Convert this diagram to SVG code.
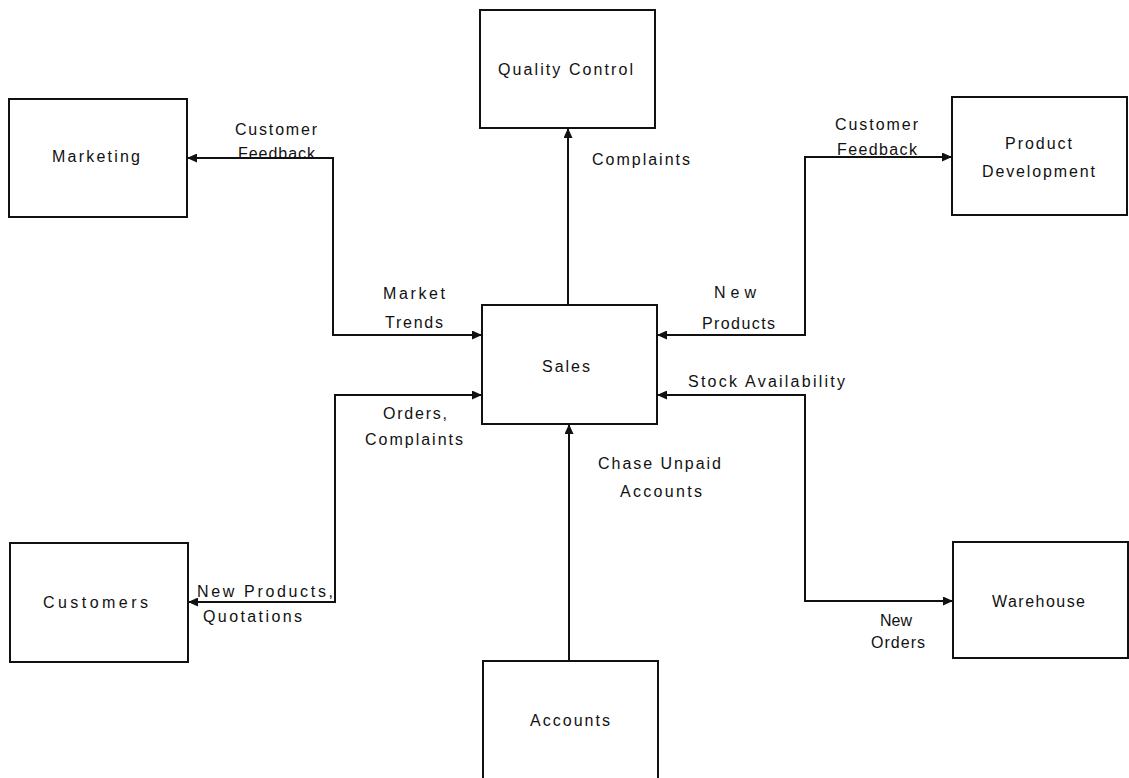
<svg xmlns="http://www.w3.org/2000/svg" width="1129" height="778" viewBox="0 0 1129 778">
  <style>
    .box { fill: #ffffff; stroke: #111111; stroke-width: 2; }
    .t { font-family: "Liberation Sans", Arial, sans-serif; font-size: 16px; fill: #111111; }
    .wire { fill: none; stroke: #111111; stroke-width: 2; }
    .one { marker-end: url(#head); }
    .two { marker-start: url(#head); marker-end: url(#head); }
  </style>
  <defs>
    <marker id="head" markerUnits="userSpaceOnUse" markerWidth="11" markerHeight="9" refX="10" refY="4.5" orient="auto-start-reverse">
      <path d="M0,0 L10,4.5 L0,9 z" fill="#111111"/>
    </marker>
  </defs>
  <rect width="1129" height="778" fill="#ffffff"/>

  <!-- information flows between departments -->
  <g id="connectors">
    <path class="wire two" d="M187,158 H333 V335 H482"/>
    <path class="wire two" d="M188,602 H335 V395 H482"/>
    <path class="wire one" d="M568,305 V128"/>
    <path class="wire one" d="M569,661 V424"/>
    <path class="wire two" d="M657,335 H805 V157 H952"/>
    <path class="wire two" d="M657,395 H805 V601 H953"/>

    <text class="t" x="235" y="135" textLength="82">Customer</text>
    <text class="t" x="238" y="159" textLength="77">Feedback</text>
    <text class="t" x="592" y="165" textLength="98">Complaints</text>
    <text class="t" x="835" y="130" textLength="83">Customer</text>
    <text class="t" x="837" y="155" textLength="80">Feedback</text>
    <text class="t" x="383" y="299" textLength="62">Market</text>
    <text class="t" x="385" y="328" textLength="58">Trends</text>
    <text class="t" x="714" y="298" textLength="42">New</text>
    <text class="t" x="702" y="329" textLength="73">Products</text>
    <text class="t" x="688" y="387" textLength="157">Stock Availability</text>
    <text class="t" x="383" y="419" textLength="64">Orders,</text>
    <text class="t" x="365" y="445" textLength="98">Complaints</text>
    <text class="t" x="598" y="469" textLength="123">Chase Unpaid</text>
    <text class="t" x="620" y="497" textLength="82">Accounts</text>
    <text class="t" x="197" y="597" textLength="136">New Products,</text>
    <text class="t" x="203" y="622" textLength="99">Quotations</text>
    <text class="t" x="880" y="626" textLength="32">New</text>
    <text class="t" x="871" y="648" textLength="54">Orders</text>
  </g>

  <g id="marketing">
    <rect class="box" x="9" y="99" width="178" height="118"/>
    <text class="t" x="52" y="162" textLength="88">Marketing</text>
  </g>
  <g id="quality-control">
    <rect class="box" x="480" y="10" width="175" height="118"/>
    <text class="t" x="498" y="75" textLength="135">Quality Control</text>
  </g>
  <g id="product-development">
    <rect class="box" x="952" y="97" width="175" height="118"/>
    <text class="t" x="1005" y="149" textLength="67">Product</text>
    <text class="t" x="982" y="177" textLength="113">Development</text>
  </g>
  <g id="sales">
    <rect class="box" x="482" y="305" width="175" height="119"/>
    <text class="t" x="542" y="372" textLength="48">Sales</text>
  </g>
  <g id="customers">
    <rect class="box" x="10" y="543" width="178" height="119"/>
    <text class="t" x="43" y="608" textLength="105">Customers</text>
  </g>
  <g id="warehouse">
    <rect class="box" x="953" y="542" width="175" height="116"/>
    <text class="t" x="992" y="607" textLength="93">Warehouse</text>
  </g>
  <g id="accounts">
    <rect class="box" x="483" y="661" width="175" height="130"/>
    <text class="t" x="530" y="726" textLength="80">Accounts</text>
  </g>
</svg>
